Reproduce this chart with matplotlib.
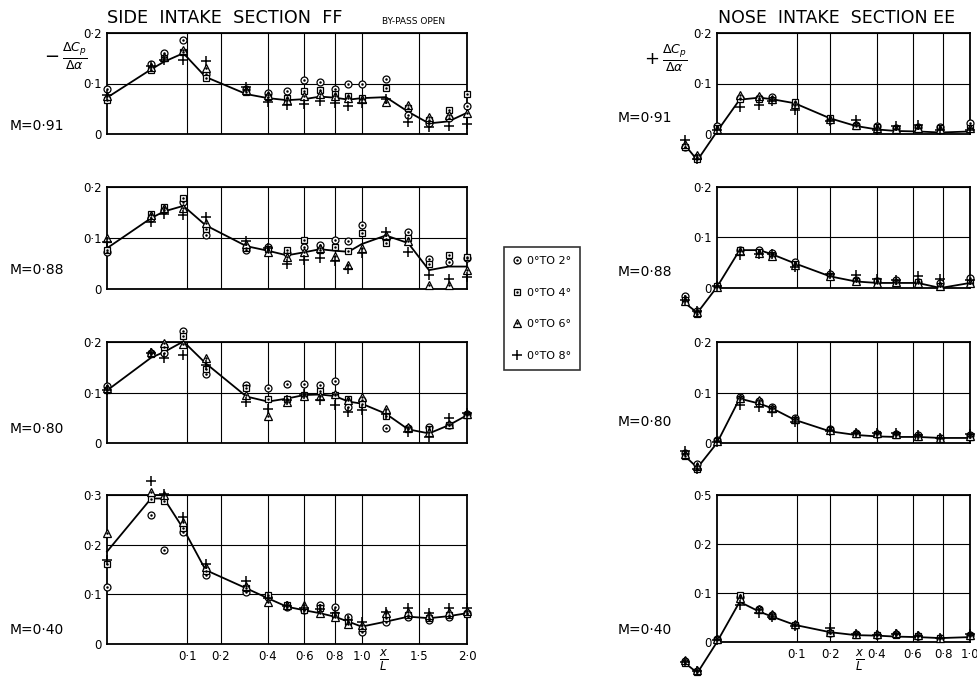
import numpy as np
import matplotlib.pyplot as plt

plt.rcParams['font.family'] = ['DejaVu Sans']

# ---- data (x/L stations, -dCp/dalpha) ----
side_x = [0, 0.03, 0.05, 0.09, 0.15, 0.3, 0.4, 0.5, 0.6, 0.7, 0.8, 0.9, 1.0, 1.2, 1.4, 1.6, 1.8, 2.0]
nose_x = [-0.016, -0.006, 0, 0.008, 0.028, 0.047, 0.094, 0.2, 0.3, 0.4, 0.5, 0.63, 0.78, 1.0]

mach = ['0·91', '0·88', '0·80', '0·40']
legend_labels = ['0°TO 2°', '0°TO 4°', '0°TO 6°', '0°TO 8°']
side_xticks = [0.1, 0.2, 0.4, 0.6, 0.8, 1.0, 1.5, 2.0]
side_xlabels = ['0·1', '0·2', '0·4', '0·6', '0·8', '1·0', '1·5', '2·0']
nose_xticks = [0.1, 0.2, 0.4, 0.6, 0.8, 1.0]
nose_xlabels = ['0·1', '0·2', '0·4', '0·6', '0·8', '1·0']

# side intake section FF
ff091_2 = [0.089, 0.139, 0.160, 0.186, 0.118, 0.090, 0.082, 0.086, 0.107, 0.103, 0.090, 0.100, 0.100, 0.108, 0.038, 0.022, 0.032, 0.055]
ff091_4 = [0.067, 0.127, 0.150, 0.163, 0.110, 0.083, 0.073, 0.072, 0.085, 0.088, 0.080, 0.075, 0.072, 0.092, 0.052, 0.028, 0.047, 0.080]
ff091_6 = [0.075, 0.132, 0.153, 0.166, 0.130, 0.087, 0.077, 0.067, 0.075, 0.080, 0.076, 0.072, 0.070, 0.064, 0.057, 0.034, 0.038, 0.041]
ff091_8 = [0.078, 0.135, 0.147, 0.147, 0.145, 0.093, 0.064, 0.057, 0.060, 0.066, 0.062, 0.056, 0.062, 0.070, 0.024, 0.014, 0.016, 0.019]
ff091_fair = [0.072, 0.128, 0.143, 0.160, 0.113, 0.079, 0.071, 0.067, 0.069, 0.074, 0.072, 0.068, 0.071, 0.073, 0.044, 0.021, 0.025, 0.042]

ff088_2 = [0.073, 0.139, 0.155, 0.171, 0.106, 0.076, 0.083, 0.070, 0.083, 0.086, 0.096, 0.094, 0.125, 0.098, 0.112, 0.058, 0.052, 0.060]
ff088_4 = [0.076, 0.148, 0.161, 0.178, 0.117, 0.081, 0.078, 0.076, 0.096, 0.076, 0.082, 0.075, 0.110, 0.090, 0.100, 0.049, 0.067, 0.062]
ff088_6 = [0.100, 0.145, 0.158, 0.158, 0.129, 0.088, 0.073, 0.063, 0.073, 0.080, 0.065, 0.048, 0.080, 0.106, 0.095, 0.007, 0.007, 0.037]
ff088_8 = [0.093, 0.132, 0.148, 0.145, 0.142, 0.094, 0.080, 0.050, 0.056, 0.060, 0.054, 0.039, 0.070, 0.112, 0.073, 0.027, 0.020, 0.023]
ff088_fair = [0.080, 0.139, 0.152, 0.163, 0.125, 0.084, 0.075, 0.066, 0.072, 0.078, 0.075, 0.073, 0.088, 0.105, 0.090, 0.037, 0.044, 0.044]

ff080_2 = [0.112, 0.179, 0.178, 0.221, 0.136, 0.115, 0.108, 0.117, 0.117, 0.115, 0.122, 0.072, 0.085, 0.029, 0.030, 0.032, 0.035, 0.058]
ff080_4 = [0.105, 0.177, 0.191, 0.211, 0.146, 0.108, 0.088, 0.088, 0.095, 0.102, 0.095, 0.088, 0.077, 0.053, 0.027, 0.027, 0.035, 0.055]
ff080_6 = [0.108, 0.181, 0.198, 0.197, 0.168, 0.095, 0.054, 0.082, 0.094, 0.093, 0.098, 0.085, 0.092, 0.068, 0.032, 0.022, 0.038, 0.058]
ff080_8 = [0.104, 0.179, 0.168, 0.175, 0.155, 0.082, 0.068, 0.085, 0.097, 0.085, 0.075, 0.062, 0.065, 0.058, 0.022, 0.012, 0.049, 0.060]
ff080_fair = [0.104, 0.169, 0.180, 0.201, 0.158, 0.092, 0.082, 0.088, 0.095, 0.096, 0.093, 0.082, 0.078, 0.058, 0.027, 0.019, 0.035, 0.055]

ff040_2 = [0.115, 0.260, 0.189, 0.226, 0.139, 0.105, 0.095, 0.074, 0.068, 0.079, 0.075, 0.055, 0.025, 0.045, 0.054, 0.048, 0.055, 0.062]
ff040_4 = [0.162, 0.291, 0.287, 0.233, 0.146, 0.113, 0.099, 0.078, 0.068, 0.072, 0.058, 0.045, 0.032, 0.052, 0.058, 0.052, 0.058, 0.060]
ff040_6 = [0.223, 0.307, 0.300, 0.245, 0.155, 0.117, 0.085, 0.079, 0.079, 0.062, 0.055, 0.040, 0.038, 0.062, 0.065, 0.058, 0.065, 0.066]
ff040_8 = [0.170, 0.329, 0.303, 0.256, 0.162, 0.126, 0.092, 0.077, 0.072, 0.070, 0.062, 0.048, 0.045, 0.065, 0.072, 0.062, 0.072, 0.072]
ff040_fair = [0.186, 0.293, 0.293, 0.232, 0.149, 0.112, 0.092, 0.075, 0.068, 0.062, 0.055, 0.045, 0.035, 0.045, 0.055, 0.052, 0.056, 0.062]

# nose intake section EE
ee091_2 = [-0.025, -0.045, 0.015, 0.072, 0.072, 0.074, 0.058, 0.028, 0.018, 0.015, 0.012, 0.013, 0.013, 0.021]
ee091_4 = [-0.025, -0.050, 0.012, 0.069, 0.070, 0.068, 0.064, 0.031, 0.016, 0.013, 0.009, 0.011, 0.011, 0.011]
ee091_6 = [-0.020, -0.042, 0.010, 0.077, 0.075, 0.070, 0.060, 0.030, 0.018, 0.012, 0.010, 0.012, 0.010, 0.012]
ee091_8 = [-0.012, -0.050, 0.008, 0.054, 0.058, 0.066, 0.048, 0.026, 0.028, 0.007, 0.016, 0.018, 0.008, 0.008]
ee091_fair = [-0.022, -0.052, 0.005, 0.068, 0.072, 0.069, 0.061, 0.031, 0.016, 0.009, 0.006, 0.005, 0.003, 0.005]

ee088_2 = [-0.016, -0.046, 0.003, 0.076, 0.075, 0.070, 0.052, 0.027, 0.016, 0.013, 0.016, 0.011, 0.010, 0.020]
ee088_4 = [-0.024, -0.052, 0.003, 0.076, 0.072, 0.066, 0.047, 0.023, 0.013, 0.013, 0.010, 0.011, 0.003, 0.010]
ee088_6 = [-0.026, -0.048, 0.002, 0.074, 0.070, 0.063, 0.045, 0.023, 0.013, 0.010, 0.012, 0.010, 0.003, 0.010]
ee088_8 = [-0.024, -0.046, 0.003, 0.065, 0.067, 0.067, 0.042, 0.027, 0.026, 0.018, 0.015, 0.023, 0.018, 0.015]
ee088_fair = [-0.030, -0.049, 0.002, 0.075, 0.075, 0.067, 0.049, 0.023, 0.013, 0.010, 0.010, 0.010, 0.000, 0.010]

ee080_2 = [-0.020, -0.042, 0.005, 0.091, 0.083, 0.072, 0.049, 0.027, 0.020, 0.018, 0.017, 0.016, 0.010, 0.016]
ee080_4 = [-0.026, -0.052, 0.003, 0.087, 0.080, 0.067, 0.045, 0.025, 0.018, 0.017, 0.015, 0.012, 0.010, 0.012]
ee080_6 = [-0.022, -0.046, 0.004, 0.089, 0.085, 0.070, 0.048, 0.026, 0.020, 0.019, 0.018, 0.014, 0.010, 0.014]
ee080_8 = [-0.016, -0.052, 0.002, 0.075, 0.072, 0.062, 0.042, 0.023, 0.020, 0.020, 0.020, 0.016, 0.010, 0.018]
ee080_fair = [-0.026, -0.049, 0.000, 0.088, 0.078, 0.069, 0.046, 0.023, 0.016, 0.013, 0.012, 0.012, 0.010, 0.010]

ee040_2 = [-0.039, -0.059, 0.007, 0.092, 0.067, 0.055, 0.035, 0.018, 0.017, 0.015, 0.017, 0.013, 0.008, 0.015]
ee040_4 = [-0.042, -0.062, 0.005, 0.096, 0.065, 0.053, 0.034, 0.018, 0.015, 0.014, 0.015, 0.012, 0.008, 0.013]
ee040_6 = [-0.036, -0.058, 0.006, 0.090, 0.068, 0.057, 0.036, 0.020, 0.017, 0.016, 0.018, 0.014, 0.009, 0.015]
ee040_8 = [-0.040, -0.060, 0.004, 0.076, 0.059, 0.052, 0.032, 0.028, 0.017, 0.015, 0.016, 0.013, 0.008, 0.016]
ee040_fair = [-0.043, -0.063, 0.000, 0.082, 0.062, 0.052, 0.035, 0.020, 0.014, 0.013, 0.011, 0.010, 0.008, 0.010]

side_rows = [
    (ff091_2, ff091_4, ff091_6, ff091_8, ff091_fair),
    (ff088_2, ff088_4, ff088_6, ff088_8, ff088_fair),
    (ff080_2, ff080_4, ff080_6, ff080_8, ff080_fair),
    (ff040_2, ff040_4, ff040_6, ff040_8, ff040_fair),
]
nose_rows = [
    (ee091_2, ee091_4, ee091_6, ee091_8, ee091_fair),
    (ee088_2, ee088_4, ee088_6, ee088_8, ee088_fair),
    (ee080_2, ee080_4, ee080_6, ee080_8, ee080_fair),
    (ee040_2, ee040_4, ee040_6, ee040_8, ee040_fair),
]

W, H = 978, 678
fig = plt.figure(figsize=(9.78, 6.78), dpi=100)


def box(l, t, r, b):
    return [l / W, 1 - b / H, (r - l) / W, (b - t) / H]


def px(x, y):
    return x / W, 1 - y / H


# x/L axis is drawn on a square-root scale (signed, for stations ahead of the lip)
def fwd(x):
    x = np.asarray(x, float)
    return np.sign(x) * np.sqrt(np.abs(x))


def inv(y):
    y = np.asarray(y, float)
    return np.sign(y) * y ** 2


markers = ['o', 's', '^', '+']
msizes = [5.0, 4.4, 5.4, 7]
handles = []


def panel(rect, xs, row, xmax, ymax, ylabels, xticks, xlabels, bottom):
    ax = fig.add_axes(rect)
    ax.set_xscale('function', functions=(fwd, inv))
    ax.set_xlim(0, xmax)
    ax.set_ylim(0, ymax)
    yt = [0, 0.1, 0.2, 0.3][:len(ylabels)]
    ax.set_yticks(yt)
    ax.set_yticklabels(ylabels)
    ax.set_xticks(xticks)
    if bottom:
        ax.set_xticklabels(xlabels)
    else:
        ax.set_xticklabels([])
    ax.tick_params(length=0, labelsize=8.5, pad=4)
    ax.grid(True, color='k', lw=0.8)
    ax.set_axisbelow(True)
    for s in ax.spines.values():
        s.set_linewidth(1.3)
    *series, fair = row
    ax.plot(xs, fair, color='k', lw=1.3, clip_on=False, zorder=3)
    hs = []
    for vals, m, ms in zip(series, markers, msizes):
        h, = ax.plot(xs, vals, ls='none', marker=m, ms=ms, mfc='white', mec='k',
                     mew=0.9, clip_on=False, zorder=4)
        if m != '+':
            d, = ax.plot(xs, vals, ls='none', marker='.', ms=1.6, color='k',
                         clip_on=False, zorder=5)
            hs.append((h, d))
        else:
            h.set_markeredgewidth(1.1)
            hs.append(h)
    return ax, hs


side_boxes = [(107, 33, 467, 134), (107, 187, 467, 289), (107, 342, 467, 443), (107, 495, 467, 644)]
nose_boxes = [(717, 33, 970, 134), (717, 187, 970, 288), (717, 342, 970, 443), (717, 495, 970, 642)]
side_m_y = [126, 270, 429, 630]
nose_m_y = [118, 272, 422, 630]

for i in range(4):
    last = i == 3
    ymax = 0.3 if last else 0.2
    ylab_s = ['0', '0·1', '0·2', '0·3'] if last else ['0', '0·1', '0·2']
    ylab_n = ['0', '0·1', '0·2', '0·5'] if last else ['0', '0·1', '0·2']
    ax, hs = panel(box(*side_boxes[i]), side_x, side_rows[i], 2.0, ymax, ylab_s,
                   side_xticks, side_xlabels, last)
    if i == 0:
        handles = hs
    panel(box(*nose_boxes[i]), nose_x, nose_rows[i], 1.0, ymax, ylab_n,
          nose_xticks, nose_xlabels, last)
    fig.text(*px(10, side_m_y[i]), 'M=' + mach[i], fontsize=10, va='center', ha='left')
    fig.text(*px(618, nose_m_y[i]), 'M=' + mach[i], fontsize=10, va='center', ha='left')

# titles and axis labels
fig.text(*px(107, 18), 'SIDE  INTAKE  SECTION  FF', fontsize=12.7, va='center', ha='left')
fig.text(*px(382, 22), 'BY-PASS OPEN', fontsize=6.5, va='center', ha='left')
fig.text(*px(718, 18), 'NOSE  INTAKE  SECTION EE', fontsize=12.5, va='center', ha='left')
fig.text(*px(66, 56), r'$-\,\frac{\Delta C_p}{\Delta \alpha}$', fontsize=13, va='center', ha='center')
fig.text(*px(666, 58), r'$+\,\frac{\Delta C_p}{\Delta \alpha}$', fontsize=13, va='center', ha='center')
fig.text(*px(384, 660), r'$\frac{x}{L}$', fontsize=12, va='center', ha='center')
fig.text(*px(860, 660), r'$\frac{x}{L}$', fontsize=12, va='center', ha='center')

leg = fig.legend(handles, legend_labels, loc='upper left', bbox_to_anchor=px(504, 247),
                 frameon=True, fancybox=False, edgecolor='k', fontsize=8,
                 handlelength=0.8, handletextpad=0.5, labelspacing=1.95,
                 borderpad=0.8, borderaxespad=0)
leg.get_frame().set_linewidth(1.2)

fig.savefig('out.png', dpi=100)
